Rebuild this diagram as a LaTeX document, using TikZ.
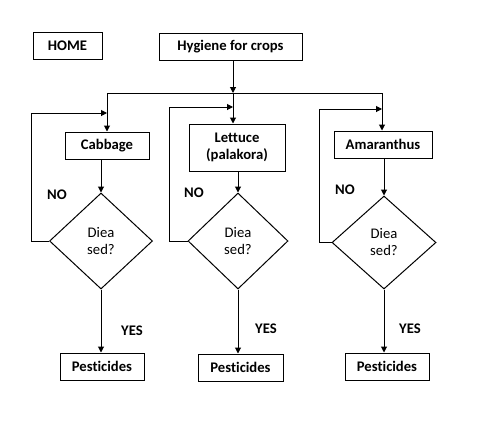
\documentclass[tikz,border=0pt]{standalone}
\usepackage{fontspec}
\setmainfont[Ligatures={NoCommon}]{Carlito}
\usetikzlibrary{shapes.geometric,arrows.meta}
\begin{document}
\begin{tikzpicture}[x=0.75pt,y=-0.75pt,
  box/.style={draw,line width=0.75pt,inner sep=0pt,font=\bfseries\fontsize{11}{13}\selectfont,align=center},
  dia/.style={draw,diamond,line width=0.75pt,inner sep=0pt,font=\fontsize{11}{12.75}\selectfont,align=center},
  lbl/.style={font=\bfseries\fontsize{11}{13}\selectfont},
  ln/.style={line width=0.75pt},
  arr/.style={line width=0.75pt,-{Triangle[length=4.5pt,width=4.5pt]}}]
\useasboundingbox[fill=white] (0,0) rectangle (477,425);
\node[box,minimum width=69*0.75pt,minimum height=27*0.75pt] (home) at (67.5,45.5) {HOME};
\node[box,minimum width=143*0.75pt,minimum height=27*0.75pt] (hyg) at (230.5,46.5) {Hygiene for crops};
\node[box,minimum width=84*0.75pt,minimum height=27*0.75pt] (cab) at (107,145.5) {Cabbage};
\node[box,minimum width=96*0.75pt,minimum height=47*0.75pt] (let) at (237,147.5) {Lettuce\\(palakora)};
\node[box,minimum width=98*0.75pt,minimum height=27*0.75pt] (ama) at (383,144.5) {Amaranthus};
\node[dia,minimum width=103*0.75pt,minimum height=96*0.75pt] (d1) at (101,241) {Diea\\sed?};
\node[dia,minimum width=100*0.75pt,minimum height=96*0.75pt] (d2) at (238,241) {Diea\\sed?};
\node[dia,minimum width=104*0.75pt,minimum height=93*0.75pt] (d3) at (384,242.5) {Diea\\sed?};
\node[box,minimum width=84*0.75pt,minimum height=27*0.75pt] (p1) at (102,366.5) {Pesticides};
\node[box,minimum width=85*0.75pt,minimum height=27*0.75pt] (p2) at (240.5,367.5) {Pesticides};
\node[box,minimum width=84*0.75pt,minimum height=27*0.75pt] (p3) at (387,366.5) {Pesticides};
\node[lbl] (no1) at (57,195) {NO};
\node[lbl] (no2) at (194,193) {NO};
\node[lbl] (no3) at (345,190) {NO};
\node[lbl] (yes1) at (132,331) {YES};
\node[lbl] (yes2) at (266,329) {YES};
\node[lbl] (yes3) at (410,329) {YES};
\coordinate (j) at (233,93);
\coordinate (jl) at (107,93);
\coordinate (jr) at (382,93);
\coordinate (k1) at (31,113);
\coordinate (c1) at (107,113);
\coordinate (k2) at (169,107);
\coordinate (c2) at (233,107);
\coordinate (k3) at (319,109);
\coordinate (c3) at (382,109);
\draw[arr] (hyg.south -| j) -- (j);
\draw[ln] (jl) -- (jr);
\draw[arr] (jl) -- (cab.north);
\draw[arr] (jr) -- (ama.north -| jr);
\draw[arr] (j) -- (let.north -| j);
\draw[arr] (cab.south -| d1.north) -- (d1.north);
\draw[arr] (let.south -| d2.north) -- (d2.north);
\draw[arr] (ama.south -| d3.north) -- (d3.north);
\draw[arr] (d1.west) -| (k1) -- (c1);
\draw[arr] (d2.west) -| (k2) -- (c2);
\draw[arr] (d3.west) -| (k3) -- (c3);
\draw[arr] (d1.south) -- (p1.north -| d1.south);
\draw[arr] (d2.south) -- (p2.north -| d2.south);
\draw[arr] (d3.south) -- (p3.north -| d3.south);
\end{tikzpicture}
\end{document}
